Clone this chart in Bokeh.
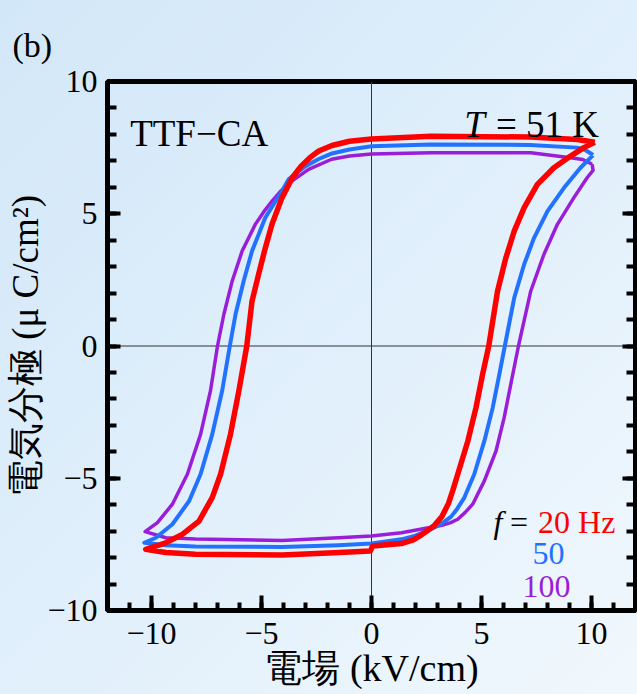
from bokeh.plotting import figure
from bokeh.models import LinearAxis, Span, Label, FixedTicker
from bokeh.embed import file_html
from bokeh.resources import INLINE

# ---- data ----
red_x = [10.15, 9.35, 7.2, 2.7, 0.0, -1.0, -1.8, -2.4, -2.8, -3.2, -3.6, -4.07, -4.52, -4.83, -5.13, -5.43,
         -5.67, -6.03, -6.41, -6.86, -7.24, -7.84, -8.6, -9.35, -10.26, -9.35, -8.0, -4.07, -1.7, -0.05,
         0.05, 1.36, 1.9, 2.26, 2.6, 2.86, 3.2, 3.5, 3.7, 3.92, 4.38, 4.75, 5.05, 5.33, 5.73, 6.11, 6.49,
         6.94, 7.54, 8.29, 9.05, 9.65, 10.15]
red_y = [7.70, 7.81, 7.90, 7.93, 7.83, 7.74, 7.58, 7.37, 7.12, 6.80, 6.36, 5.60, 4.61, 3.70, 2.72, 1.70,
         0.0, -1.70, -3.34, -4.85, -5.73, -6.62, -7.12, -7.44, -7.69, -7.81, -7.87, -7.90, -7.82, -7.75,
         -7.56, -7.47, -7.33, -7.15, -6.95, -6.78, -6.45, -5.95, -5.45, -4.85, -3.59, -2.33, -1.07, 0.0, 2.08, 3.34, 4.35,
         5.23, 6.11, 6.74, 7.18, 7.50, 7.70]

blue_x = [10.07, 9.7, 9.35, 7.2, 2.7, 0.0, -1.0, -1.8, -2.4, -3.0, -3.4, -3.77, -4.07, -4.83, -5.43, -5.81,
          -6.18, -6.44, -6.79, -7.24, -7.77, -8.29, -9.05, -9.8, -10.33, -9.35, -8.0, -4.07, -1.5, 0.0,
          1.36, 2.0, 2.56, 3.0, 3.3, 3.62, 3.9, 4.22, 4.67, 5.13, 5.51, 5.81, 6.06, 6.49, 6.94, 7.39, 8.0,
          8.75, 9.5, 10.07]
blue_y = [7.22, 7.42, 7.50, 7.60, 7.62, 7.55, 7.43, 7.28, 7.07, 6.80, 6.55, 6.30, 5.86, 4.85, 3.59, 2.46,
          1.20, 0.0, -1.70, -3.34, -4.85, -5.86, -6.74, -7.25, -7.44, -7.53, -7.58, -7.60, -7.53, -7.47,
          -7.31, -7.17, -6.98, -6.80, -6.65, -6.45, -6.15, -5.73, -4.85, -3.59, -2.33, -1.07, 0.0, 1.83, 3.09, 4.09, 5.10,
          5.98, 6.74, 7.22]

purple_x = [10.03, 9.6, 9.05, 7.24, 2.71, 0.0, -1.0, -1.81, -2.86, -3.62, -4.1, -4.52, -4.9, -5.28, -5.88,
            -6.33, -6.71, -7.0, -7.32, -7.77, -8.37, -9.05, -9.73, -10.29, -9.35, -8.0, -4.07, -1.5, 0.0,
            1.36, 2.1, 2.71, 3.2, 3.6, 3.92, 4.25, 4.6, 5.13, 5.66, 6.03, 6.33, 6.68, 7.24, 7.84, 8.45, 9.2,
            9.8, 10.07, 10.03]
purple_y = [6.87, 7.05, 7.12, 7.31, 7.31, 7.26, 7.18, 7.06, 6.68, 6.24, 5.88, 5.48, 5.07, 4.60, 3.59,
            2.46, 1.20, 0.0, -1.70, -3.34, -4.85, -5.98, -6.68, -7.02, -7.25, -7.30, -7.35, -7.25, -7.18,
            -7.06, -6.95, -6.85, -6.78, -6.68, -6.55, -6.30, -5.98, -5.10, -3.97, -2.71, -1.45, 0.0, 2.08, 3.47, 4.60, 5.61,
            6.36, 6.64, 6.87]

x_major_ticks = [-10, -5, 0, 5, 10]
x_minor_ticks = list(range(-11, 12))
y_major_ticks = [-10, -5, 0, 5, 10]
y_minor_ticks = list(range(-10, 11))
tick_labels = {-10: "\u221210", -5: "\u22125", 0: "0", 5: "5", 10: "10"}

freq_labels = ["20 Hz", "50", "100"]
colors = ["#ff0000", "#2272ff", "#9a1ed8"]
widths = [5.5, 4, 3.5]
panel_tag = "(b)"

SERIF = "Liberation Serif"

p = figure(width=637, height=694, x_range=(-12, 12), y_range=(-10, 10),
           output_backend="svg", toolbar_location=None,
           min_border_left=107, min_border_right=2, min_border_top=81, min_border_bottom=84)
p.background_fill_color = None
p.border_fill_color = None
p.styles = {"background": "linear-gradient(135deg, #d2e7f8 0%, #e0effb 50%, #f1f8fd 100%)"}
p.grid.visible = False
p.outline_line_color = "black"
p.outline_line_width = 5

# zero lines
p.add_layout(Span(location=0, dimension="width", line_color="#333333", line_width=1, level="underlay"))
p.add_layout(Span(location=0, dimension="height", line_color="#333333", line_width=1, level="underlay"))

# loops (drawn back to front)
for xs, ys, c, w in reversed(list(zip([red_x, blue_x, purple_x], [red_y, blue_y, purple_y], colors, widths))):
    p.line(xs, ys, line_color=c, line_width=w, line_join="round")

def style_axis(ax, maj_in, min_in):
    ax.axis_line_width = 5
    ax.axis_line_color = "black"
    ax.major_tick_in = maj_in
    ax.major_tick_out = 0
    ax.minor_tick_in = min_in
    ax.minor_tick_out = 0
    ax.major_tick_line_width = 4
    ax.minor_tick_line_width = 4
    ax.major_label_text_font = SERIF
    ax.major_label_text_font_size = "32px"
    ax.major_label_text_color = "black"
    ax.axis_label_text_font = SERIF
    ax.axis_label_text_font_style = "normal"
    ax.axis_label_text_color = "black"

xa = p.xaxis[0]
xa.ticker = FixedTicker(ticks=x_major_ticks, minor_ticks=x_minor_ticks)
xa.major_label_overrides = tick_labels
style_axis(xa, 15, 8)
xa.major_label_standoff = 12
xa.axis_label = "電場 (kV/cm)"
xa.axis_label_text_font_size = "38px"
xa.axis_label_standoff = 0

ya = p.yaxis[0]
ya.ticker = FixedTicker(ticks=y_major_ticks, minor_ticks=y_minor_ticks)
ya.major_label_overrides = tick_labels
style_axis(ya, 13, 9)
ya.major_label_standoff = 10
ya.axis_label = "電気分極 (μ C/cm²)"
ya.axis_label_text_font_size = "37px"
ya.axis_label_standoff = -2

ra = LinearAxis(ticker=FixedTicker(ticks=y_major_ticks, minor_ticks=y_minor_ticks))
style_axis(ra, 13, 9)
ra.major_label_text_color = None
ra.major_label_text_font_size = "1px"
ra.major_label_standoff = 0
p.add_layout(ra, "right")

# panel tag "(b)" as the title, at the top-left corner of the picture
p.title.text = panel_tag
p.title.text_font = SERIF
p.title.text_font_size = "34px"
p.title.text_font_style = "normal"
p.title.text_color = "black"
p.title.align = "left"
p.title.vertical_align = "bottom"
p.title.offset = -95
p.title.standoff = 36

# texts inside the frame
p.add_layout(Label(x=-10.97, y=8.05, text="TTF\u2212CA", text_font=SERIF, text_font_size="37px",
                   text_baseline="alphabetic", text_align="left", text_color="black"))
p.add_layout(Label(x=10.34, y=8.39, text="= 51 K", text_font=SERIF, text_font_size="37px",
                   text_baseline="alphabetic", text_align="right", text_color="black"))
p.add_layout(Label(x=5.15, y=8.39, text="T", text_font=SERIF, text_font_size="37px", text_font_style="italic",
                   text_baseline="alphabetic", text_align="right", text_color="black"))
p.add_layout(Label(x=5.55, y=-6.64, text="f", text_font=SERIF, text_font_size="32px", text_font_style="italic",
                   text_baseline="alphabetic", text_align="left", text_color="black"))
p.add_layout(Label(x=6.3, y=-6.64, text="=", text_font=SERIF, text_font_size="32px",
                   text_baseline="alphabetic", text_align="left", text_color="black"))
p.add_layout(Label(x=7.57, y=-6.64, text=freq_labels[0], text_font=SERIF, text_font_size="32px",
                   text_baseline="alphabetic", text_align="left", text_color=colors[0]))
p.add_layout(Label(x=8.05, y=-7.86, text=freq_labels[1], text_font=SERIF, text_font_size="32px",
                   text_baseline="alphabetic", text_align="center", text_color=colors[1]))
p.add_layout(Label(x=7.95, y=-9.11, text=freq_labels[2], text_font=SERIF, text_font_size="32px",
                   text_baseline="alphabetic", text_align="center", text_color=colors[2]))

open("out.html", "w").write(file_html(p, INLINE))
